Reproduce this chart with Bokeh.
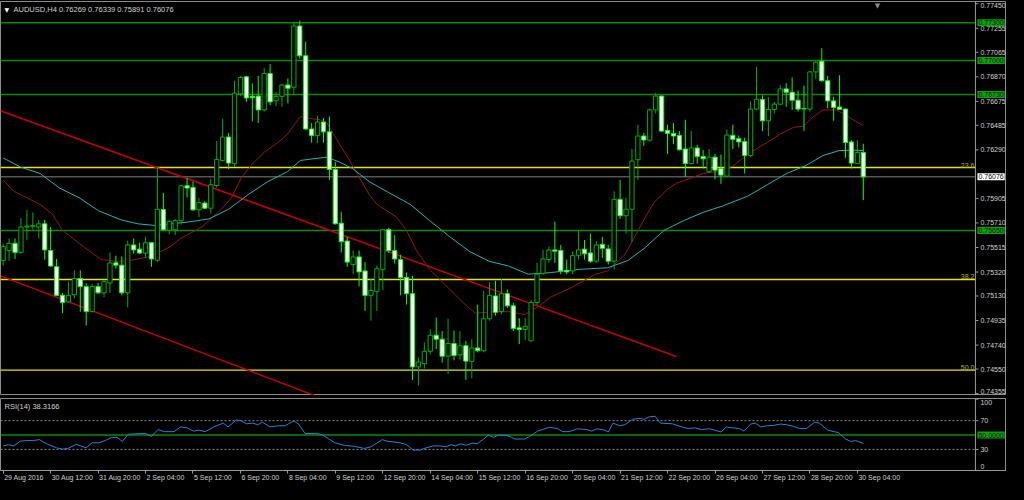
from bokeh.plotting import figure
from bokeh.layouts import column
from bokeh.models import (Range1d, FixedTicker, Label, Span, ColumnDataSource, LinearAxis,
                          CustomJS)
from bokeh.embed import file_html
from bokeh.resources import INLINE
from bokeh.core.properties import value
from bokeh.io import curdoc

# ---------------- data ----------------
symbol = "AUDUSD"
timeframe = "H4"

bar_open = [0.75411, 0.75491, 0.75548, 0.75476, 0.75677, 0.75683, 0.75677, 0.75703, 0.75491, 0.75362,
            0.75135, 0.75083, 0.75140, 0.75269, 0.75205, 0.75006, 0.75205, 0.75155, 0.75233, 0.75393,
            0.75375, 0.75155, 0.75535, 0.75502, 0.75471, 0.75553, 0.75414, 0.75817, 0.75651, 0.75656,
            0.75728, 0.76005, 0.75992, 0.75814, 0.75868, 0.75827, 0.76007, 0.76206, 0.76392, 0.76181,
            0.76735, 0.76870, 0.76715, 0.76717, 0.76607, 0.76896, 0.76679, 0.76715, 0.76805, 0.76787,
            0.77273, 0.77037, 0.76456, 0.76405, 0.76511, 0.76433, 0.76134, 0.75708, 0.75566, 0.75380,
            0.75440, 0.75329, 0.75135, 0.75166, 0.75341, 0.75656, 0.75491, 0.75419, 0.75277, 0.75148,
            0.74567, 0.74593, 0.74691, 0.74818, 0.74787, 0.74652, 0.74753, 0.74663, 0.74735, 0.74611,
            0.74717, 0.74696, 0.74949, 0.75130, 0.75006, 0.75148, 0.75052, 0.74877, 0.74864, 0.74774,
            0.75078, 0.75310, 0.75419, 0.75496, 0.75491, 0.75334, 0.75329, 0.75453, 0.75502, 0.75471,
            0.75406, 0.75540, 0.75504, 0.75406, 0.75897, 0.75767, 0.75819, 0.76212, 0.76400, 0.76367,
            0.76607, 0.76717, 0.76444, 0.76421, 0.76405, 0.76297, 0.76181, 0.76305, 0.76237, 0.76116,
            0.76232, 0.76142, 0.76082, 0.76405, 0.76379, 0.76356, 0.76245, 0.76614, 0.76689, 0.76521,
            0.76611, 0.76653, 0.76774, 0.76748, 0.76684, 0.76619, 0.76614, 0.76909, 0.76994, 0.76839,
            0.76679, 0.76630, 0.76614, 0.76353, 0.76181, 0.76269]
bar_high = [0.75548, 0.75587, 0.75587, 0.75749, 0.75811, 0.75794, 0.75734, 0.75734, 0.75677, 0.75424,
            0.75155, 0.75244, 0.75334, 0.75334, 0.75231, 0.75225, 0.75233, 0.75259, 0.75476, 0.75450,
            0.75445, 0.75569, 0.75587, 0.75553, 0.75600, 0.75553, 0.76154, 0.75948, 0.75734, 0.75742,
            0.76013, 0.76067, 0.76038, 0.75910, 0.75883, 0.76059, 0.76361, 0.76537, 0.76425, 0.76839,
            0.76878, 0.76878, 0.76818, 0.76878, 0.76942, 0.76973, 0.76748, 0.76813, 0.76857, 0.77308,
            0.77316, 0.77149, 0.76503, 0.76560, 0.76542, 0.76555, 0.76193, 0.75798, 0.75600, 0.75491,
            0.75491, 0.75399, 0.75264, 0.75372, 0.75664, 0.75672, 0.75612, 0.75457, 0.75316, 0.75290,
            0.74644, 0.74760, 0.74864, 0.74959, 0.74851, 0.74949, 0.74856, 0.74851, 0.74774, 0.74787,
            0.75062, 0.75174, 0.75238, 0.75251, 0.75264, 0.75182, 0.75076, 0.74954, 0.74954, 0.75097,
            0.75393, 0.75496, 0.75522, 0.75721, 0.75535, 0.75419, 0.75484, 0.75651, 0.75574, 0.75625,
            0.75566, 0.75600, 0.75535, 0.75961, 0.76051, 0.75910, 0.76297, 0.76490, 0.76425, 0.76619,
            0.76743, 0.76723, 0.76490, 0.76503, 0.76439, 0.76529, 0.76439, 0.76330, 0.76289, 0.76297,
            0.76258, 0.76253, 0.76452, 0.76490, 0.76405, 0.76387, 0.76676, 0.76950, 0.76723, 0.76710,
            0.76671, 0.76805, 0.76820, 0.76865, 0.76761, 0.76800, 0.76916, 0.76994, 0.77097, 0.76878,
            0.76710, 0.76882, 0.76619, 0.76367, 0.76367, 0.76339]
bar_low = [0.75370, 0.75409, 0.75424, 0.75465, 0.75574, 0.75656, 0.75587, 0.75419, 0.75362, 0.75130,
           0.74993, 0.75078, 0.75109, 0.75006, 0.74895, 0.75001, 0.75148, 0.75122, 0.75155, 0.75347,
           0.75135, 0.75039, 0.75465, 0.75463, 0.75432, 0.75362, 0.75399, 0.75651, 0.75620, 0.75612,
           0.75697, 0.75912, 0.75806, 0.75755, 0.75819, 0.75786, 0.75992, 0.76199, 0.76137, 0.76154,
           0.76715, 0.76671, 0.76516, 0.76503, 0.76593, 0.76645, 0.76638, 0.76632, 0.76658, 0.76731,
           0.77014, 0.76446, 0.76348, 0.76343, 0.76348, 0.76051, 0.75697, 0.75476, 0.75362, 0.75303,
           0.75207, 0.75011, 0.74934, 0.75011, 0.75174, 0.75471, 0.75388, 0.75135, 0.75062, 0.74464,
           0.74420, 0.74554, 0.74665, 0.74709, 0.74601, 0.74510, 0.74619, 0.74624, 0.74464, 0.74477,
           0.74683, 0.74683, 0.74934, 0.74975, 0.74985, 0.75037, 0.74851, 0.74748, 0.74779, 0.74768,
           0.75058, 0.75295, 0.75393, 0.75393, 0.75303, 0.75303, 0.75303, 0.75419, 0.75419, 0.75393,
           0.75393, 0.75432, 0.75380, 0.75341, 0.75742, 0.75625, 0.75561, 0.76051, 0.76322, 0.76356,
           0.76580, 0.76433, 0.76258, 0.76336, 0.76284, 0.76077, 0.76175, 0.76181, 0.76142, 0.76108,
           0.76057, 0.76020, 0.76072, 0.76297, 0.76309, 0.76103, 0.76232, 0.76607, 0.76439, 0.76400,
           0.76580, 0.76645, 0.76632, 0.76607, 0.76593, 0.76439, 0.76593, 0.76851, 0.76831, 0.76619,
           0.76521, 0.76607, 0.76227, 0.76142, 0.76181, 0.75891]
bar_close = [0.75522, 0.75548, 0.75476, 0.75677, 0.75685, 0.75690, 0.75703, 0.75496, 0.75368, 0.75135,
             0.75078, 0.75135, 0.75269, 0.75205, 0.75006, 0.75205, 0.75155, 0.75244, 0.75393, 0.75375,
             0.75155, 0.75535, 0.75496, 0.75471, 0.75553, 0.75424, 0.75817, 0.75656, 0.75724, 0.75728,
             0.76005, 0.75987, 0.75814, 0.75871, 0.75827, 0.76013, 0.76214, 0.76392, 0.76185, 0.76741,
             0.76865, 0.76702, 0.76704, 0.76607, 0.76896, 0.76671, 0.76715, 0.76805, 0.76779, 0.77273,
             0.77037, 0.76456, 0.76405, 0.76511, 0.76433, 0.76134, 0.75703, 0.75561, 0.75399, 0.75440,
             0.75321, 0.75135, 0.75174, 0.75347, 0.75656, 0.75491, 0.75424, 0.75277, 0.75148, 0.74567,
             0.74606, 0.74691, 0.74818, 0.74787, 0.74652, 0.74753, 0.74657, 0.74735, 0.74613, 0.74717,
             0.74696, 0.74949, 0.75135, 0.75001, 0.75148, 0.75052, 0.74872, 0.74864, 0.74890, 0.75078,
             0.75303, 0.75424, 0.75496, 0.75486, 0.75329, 0.75321, 0.75450, 0.75496, 0.75465, 0.75406,
             0.75535, 0.75509, 0.75406, 0.75897, 0.75767, 0.75819, 0.76201, 0.76400, 0.76369, 0.76607,
             0.76717, 0.76439, 0.76421, 0.76400, 0.76291, 0.76181, 0.76305, 0.76237, 0.76219, 0.76232,
             0.76129, 0.76090, 0.76408, 0.76374, 0.76353, 0.76245, 0.76614, 0.76692, 0.76521, 0.76611,
             0.76653, 0.76774, 0.76748, 0.76684, 0.76614, 0.76616, 0.76909, 0.76986, 0.76839, 0.76679,
             0.76627, 0.76611, 0.76348, 0.76185, 0.76269, 0.76076]

# moving averages (bar position, value)
ma_red_bar = [0, 1.8, 6.2, 8.3, 10.0, 12.8, 15.0, 16.6, 18.9, 20.6, 22.7, 24.9, 26.6, 28.2, 29.9,
              33.5, 36.8, 38.5, 40.1, 41.8, 44.0, 46.3, 47.9, 50.1, 51.2, 53.4, 54.6, 56.2, 57.9, 59.5,
              61.7, 63.0, 66.3, 68.0, 69.6, 71.9, 74.6, 77.4, 79.6, 82.9, 85.2, 87.9, 90.2, 92.3, 95.6,
              99.8, 101.9, 104.8, 106.9, 108.1, 109.7, 111.9, 113.5, 115.9, 118.0, 120.2, 123.0, 125.5,
              128.8, 130.9, 133.3, 134.9, 136.6, 138.2, 140.4, 142.0, 143.7, 145.0]
ma_red_val = [0.76051, 0.75961, 0.75858, 0.75780, 0.75651, 0.75548, 0.75471, 0.75419, 0.75406, 0.75406,
              0.75424, 0.75445, 0.75484, 0.75522, 0.75587, 0.75677, 0.75819, 0.75910, 0.76065, 0.76168,
              0.76271, 0.76348, 0.76413, 0.76555, 0.76542, 0.76529, 0.76503, 0.76374, 0.76245, 0.76116,
              0.75935, 0.75858, 0.75757, 0.75651, 0.75496, 0.75341, 0.75215, 0.75083, 0.74993, 0.75006,
              0.75006, 0.74983, 0.75045, 0.75122, 0.75192, 0.75302, 0.75329, 0.75457, 0.75639, 0.75742,
              0.75871, 0.75974, 0.76026, 0.76065, 0.76103, 0.76116, 0.76160, 0.76258, 0.76348, 0.76413,
              0.76470, 0.76477, 0.76555, 0.76607, 0.76607, 0.76568, 0.76516, 0.76483]
ma_cyan_bar = [0, 2.9, 6.2, 9.5, 12.8, 16.1, 19.9, 22.7, 25.6, 28.2, 31.0, 34.7, 38.0, 41.3, 44.6,
               47.9, 50.1, 52.2, 54.6, 56.7, 58.9, 61.7, 65.0, 68.6, 71.9, 75.3, 78.6, 81.9, 85.2, 88.5,
               92.3, 97.0, 101.9, 105.3, 108.1, 111.4, 114.7, 118.0, 121.3, 125.5, 128.8, 132.1, 135.4,
               138.2, 140.9, 143.2, 145.0]
ma_cyan_val = [0.76226, 0.76154, 0.76103, 0.75987, 0.75910, 0.75806, 0.75734, 0.75703, 0.75690, 0.75703,
               0.75716, 0.75742, 0.75819, 0.75935, 0.76038, 0.76116, 0.76206, 0.76219, 0.76232, 0.76193,
               0.76142, 0.76038, 0.75951, 0.75858, 0.75728, 0.75600, 0.75484, 0.75406, 0.75368, 0.75303,
               0.75316, 0.75341, 0.75354, 0.75411, 0.75509, 0.75651, 0.75728, 0.75794, 0.75845, 0.75922,
               0.76013, 0.76103, 0.76168, 0.76245, 0.76284, 0.76289, 0.76284]

# trend lines (bar, price) end points
trend_upper_bar = [-0.45, 113.5]
trend_upper_val = [0.76601, 0.74650]
trend_lower_bar = [-0.45, 54.2]
trend_lower_val = [0.75290, 0.74309]

# horizontal levels
green_levels = [0.77300, 0.77000, 0.76730, 0.75650]
fib_names = ["23.6", "38.2", "50.0"]
fib_levels = [0.76150, 0.75261, 0.74541]

# RSI(14)
rsi_bar = [0, 0.9, 1.8, 2.9, 4.0, 5.1, 6.1, 7.3, 9.0, 10.0, 10.9, 12.3, 13.1, 14.0, 15.0, 16.1, 17.2,
           18.3, 19.2, 20.1, 21.1, 23.9, 25.0, 26.1, 27.2, 28.8, 29.9, 31.0, 32.1, 33.0, 34.1, 35.5,
           37.1, 37.9, 39.3, 40.1, 41.0, 42.1, 42.9, 43.7, 45.0, 46.5, 47.6, 48.1, 49.0, 49.8, 50.9,
           52.9, 53.9, 55.9, 57.5, 59.2, 60.9, 62.0, 63.9, 64.7, 66.9, 68.0, 69.1, 70.3, 71.3, 72.5,
           73.6, 74.7, 75.5, 76.3, 77.1, 78.0, 79.1, 79.9, 81.0, 81.8, 82.7, 83.5, 84.9, 85.7, 86.3,
           87.9, 88.7, 90.1, 92.1, 93.4, 94.3, 95.4, 96.8, 98.4, 99.2, 100.1, 101.4, 102.0, 102.8,
           103.9, 104.8, 106.1, 107.2, 108.1, 108.9, 109.9, 110.8, 112.8, 114.4, 115.5, 116.6, 117.7,
           119.1, 120.5, 121.0, 121.9, 123.0, 124.1, 124.9, 126.0, 126.8, 127.7, 128.8, 129.9, 131.0,
           132.1, 133.2, 134.3, 135.4, 136.8, 137.6, 139.0, 140.1, 140.8, 142.0, 142.9, 143.7, 145.0]
rsi_val = [34.9, 36.6, 34.9, 41.5, 42.3, 42.3, 43.6, 37.9, 32.2, 30.4, 31.3, 37.0, 34.9, 32.2, 39.2,
           39.2, 42.3, 46.8, 46.8, 41.0, 51.1, 52.4, 48.1, 57.7, 54.7, 54.7, 61.3, 60.0, 55.5, 56.8,
           54.7, 61.3, 66.6, 61.3, 70.9, 70.0, 65.7, 66.6, 64.3, 67.9, 61.3, 63.0, 63.0, 65.7, 69.6,
           65.3, 52.0, 52.4, 49.8, 39.2, 35.7, 34.3, 31.3, 33.6, 43.6, 41.5, 39.2, 36.6, 29.1, 29.1,
           32.2, 34.9, 34.9, 33.6, 36.6, 34.9, 37.9, 35.7, 38.8, 37.9, 44.5, 49.8, 46.8, 50.2, 49.5,
           46.8, 44.5, 44.5, 47.6, 55.5, 60.8, 59.0, 54.7, 54.7, 58.7, 57.7, 55.5, 58.7, 56.8, 54.2,
           66.6, 63.0, 64.3, 71.9, 73.2, 71.9, 75.3, 76.2, 66.6, 65.7, 61.3, 59.0, 60.0, 57.7, 58.7,
           55.5, 54.2, 61.3, 60.0, 59.0, 55.5, 65.3, 66.6, 61.3, 63.0, 63.4, 65.3, 64.3, 62.1, 59.0,
           59.0, 67.9, 66.6, 56.8, 54.7, 53.4, 44.5, 41.0, 42.3, 38.3]
rsi_last = 38.3166
rsi_levels_dotted = [70, 30]
rsi_mid = 50
rsi_ticks = [100, 70, 30, 0]

price_ticks = [0.74355, 0.74550, 0.74740, 0.74935, 0.75130, 0.75320, 0.75515, 0.75710, 0.75905,
               0.76290, 0.76485, 0.76675, 0.76870, 0.77065, 0.77255, 0.77450]

xtick_bars = [0, 8, 16, 24, 32, 40, 48, 56, 64, 72, 80, 88, 96, 104, 112, 120, 128, 136, 144]
xtick_labels = ["29 Aug 2016", "30 Aug 12:00", "31 Aug 20:00", "2 Sep 04:00", "5 Sep 12:00",
                "6 Sep 20:00", "8 Sep 04:00", "9 Sep 12:00", "12 Sep 20:00", "14 Sep 04:00",
                "15 Sep 12:00", "16 Sep 20:00", "20 Sep 04:00", "21 Sep 12:00", "22 Sep 20:00",
                "26 Sep 04:00", "27 Sep 12:00", "28 Sep 20:00", "30 Sep 04:00"]

# ---------------- styling / layout ----------------
FONT = "Liberation Sans"
FS_PX = 7
FS = f"{FS_PX}px"
FRAME_W = 1006            # whole canvas; price scale is drawn inside at AXIS_X
PX_PER_BAR = 5.932
X_START = -0.45
AXIS_X = 163.9            # chart/price-scale separator (in bar units)
X_END = X_START + FRAME_W / PX_PER_BAR
MAIN_H = 394
Y_START, Y_END = 0.74340, 0.77468
R_START, R_END = 0.6, 100.9
RSI_H = 72
AX_COL = "#9A9A9A"
TXT_COL = "#D2D2D2"
BULL_LINE = "#00B000"
BEAR_LINE = "#00FF00"
GREEN_LVL = "#0A8A0A"
BOX_BG = "#0CA00C"
BOX_TXT = "#001C00"
FIB_COL = "#E6E600"
TICK_BARS = 3 / PX_PER_BAR
EDGE_PAD = 4

# Arial/Liberation Sans advance widths (em) for the date labels
_W = {**{d: 0.556 for d in "0123456789"}, " ": 0.278, ":": 0.278, "A": 0.667, "S": 0.667,
      "u": 0.556, "g": 0.556, "e": 0.556, "p": 0.556}


def text_w(s):
    return sum(_W.get(ch, 0.556) for ch in s) * FS_PX


def edge_offsets(ticks, lo, hi, height):
    """Push labels that would be cut by the pane edge back inside (screen px, + = down)."""
    out = []
    for t in ticks:
        from_bottom = (t - lo) / (hi - lo) * height
        from_top = height - from_bottom
        if from_bottom < EDGE_PAD:
            out.append(-(EDGE_PAD - from_bottom))
        elif from_top < EDGE_PAD:
            out.append(EDGE_PAD - from_top)
        else:
            out.append(0)
    return out


n = len(bar_open)
xs = list(range(n))
up = [c >= o for o, c in zip(bar_open, bar_close)]
src = ColumnDataSource(dict(
    x=xs, o=bar_open, h=bar_high, l=bar_low, c=bar_close,
    top=[max(o, c) for o, c in zip(bar_open, bar_close)],
    bot=[min(o, c) for o, c in zip(bar_open, bar_close)],
    fill=["#000000" if u else "#FFFFFF" for u in up],
    line=[BULL_LINE if u else BEAR_LINE for u in up],
))


def price_scale(fig, ticks, labels, lo, hi, height):
    """Terminal-style price scale drawn inside the canvas at AXIS_X."""
    fig.add_layout(Span(location=AXIS_X, dimension="height", line_color=AX_COL, line_width=1))
    fig.segment(x0=[AXIS_X] * len(ticks), y0=ticks, x1=[AXIS_X + TICK_BARS] * len(ticks), y1=ticks,
                line_color=AX_COL, line_width=1)
    fig.text(x=[AXIS_X] * len(ticks), y=ticks, text=labels, x_offset=5,
             y_offset=edge_offsets(ticks, lo, hi, height), text_align="left",
             text_baseline="middle", text_font=value(FONT), text_font_size=value(FS),
             text_color=TXT_COL)


def value_box(fig, y, text, bg, fg):
    fig.add_layout(Label(x=AXIS_X, y=y, text=text, text_align="left", text_baseline="middle",
                         x_offset=2, text_font=FONT, text_font_size=FS, text_color=fg,
                         background_fill_color=bg, padding=1))


main = figure(frame_width=FRAME_W, frame_height=MAIN_H,
              x_range=Range1d(X_START, X_END), y_range=Range1d(Y_START, Y_END),
              x_axis_location=None, y_axis_location=None,
              toolbar_location=None, output_backend="svg",
              background_fill_color="#000000", border_fill_color="#000000",
              outline_line_color="#8C8C8C",
              min_border_left=0, min_border_right=0, min_border_top=1, min_border_bottom=0)
main.grid.visible = False

# horizontal levels (stop at the price scale)
k = len(green_levels)
main.segment(x0=[X_START] * k, y0=green_levels, x1=[AXIS_X] * k, y1=green_levels,
             line_color=GREEN_LVL, line_width=1.5)
k = len(fib_levels)
main.segment(x0=[X_START] * k, y0=fib_levels, x1=[AXIS_X] * k, y1=fib_levels,
             line_color=FIB_COL, line_width=1.3)
for nm, lv in zip(fib_names, fib_levels):
    main.add_layout(Label(x=AXIS_X, y=lv, text=nm, text_align="right", text_baseline="bottom",
                          x_offset=-1, y_offset=0, text_font=FONT, text_font_size=FS,
                          text_color="#B8B800"))
main.segment(x0=[X_START], y0=[bar_close[-1]], x1=[AXIS_X], y1=[bar_close[-1]],
             line_color="#808080", line_width=1)

# trend lines
main.line(trend_upper_bar, trend_upper_val, line_color="#C80000", line_width=1.5)
main.line(trend_lower_bar, trend_lower_val, line_color="#C80000", line_width=1.5)

# moving averages
main.line(ma_red_bar, ma_red_val, line_color="#9A1414", line_width=1)
main.line(ma_cyan_bar, ma_cyan_val, line_color="#1FB5B5", line_width=1)

# candles
main.segment(x0="x", y0="l", x1="x", y1="h", line_color="line", line_width=1, source=src)
main.vbar(x="x", width=0.72, top="top", bottom="bot", fill_color="fill", line_color="line",
          line_width=1, source=src)

# price scale + value boxes
price_scale(main, price_ticks, [f"{t:.5f}" for t in price_ticks], Y_START, Y_END, MAIN_H)
for lv in green_levels:
    value_box(main, lv, f"{lv:.5f}", BOX_BG, BOX_TXT)
value_box(main, bar_close[-1], f"{bar_close[-1]:.5f}", "#FFFFFF", "#000000")

# header text
main.add_layout(Label(x=X_START, y=Y_END, x_offset=4, y_offset=-4, text="\u25bc",
                      text_baseline="top", text_font="DejaVu Sans", text_font_size="6px",
                      text_color="#FFFFFF"))
header = f"{symbol},{timeframe}  {bar_open[-1]:.5f} {bar_high[-1]:.5f} {bar_low[-1]:.5f} {bar_close[-1]:.5f}"
main.add_layout(Label(x=X_START, y=Y_END, x_offset=13, y_offset=-3, text=header,
                      text_baseline="top", text_font=FONT, text_font_size="7.5px",
                      text_color=TXT_COL))
# chart-shift marker
main.add_layout(Label(x=n - 1 + 2.4, y=Y_END, y_offset=0, text="\u25bc", text_align="center",
                      text_baseline="top", text_font="DejaVu Sans", text_font_size="7px",
                      text_color="#8A8A8A"))

# ---------------- RSI pane ----------------
rsi = figure(frame_width=FRAME_W, frame_height=RSI_H,
             x_range=main.x_range, y_range=Range1d(R_START, R_END),
             x_axis_location="below", y_axis_location=None,
             toolbar_location=None, output_backend="svg",
             background_fill_color="#000000", border_fill_color="#000000",
             outline_line_color="#8C8C8C",
             min_border_left=0, min_border_right=0, min_border_top=3, min_border_bottom=0)
rsi.grid.visible = False
k = len(rsi_levels_dotted)
rsi.segment(x0=[X_START] * k, y0=rsi_levels_dotted, x1=[AXIS_X] * k, y1=rsi_levels_dotted,
            line_color="#8C8C8C", line_width=1, line_dash="2 2")
rsi.segment(x0=[X_START], y0=[rsi_mid], x1=[AXIS_X], y1=[rsi_mid], line_color=GREEN_LVL,
            line_width=1.5)
rsi.line(rsi_bar, rsi_val, line_color="#2C7FD8", line_width=1)

price_scale(rsi, rsi_ticks, [str(t) for t in rsi_ticks], R_START, R_END, RSI_H)
value_box(rsi, rsi_mid, f"{rsi_mid:.4f}", BOX_BG, BOX_TXT)
rsi.add_layout(Label(x=X_START, y=R_END, x_offset=4, y_offset=-3, text=f"RSI(14) {rsi_last:.4f}",
                     text_baseline="top", text_font=FONT, text_font_size="7.5px",
                     text_color=TXT_COL))

# time axis: tick marks at the bars, labels start at their tick (left-aligned)
rx = rsi.xaxis[0]
rx.ticker = FixedTicker(ticks=xtick_bars)
rx.major_label_overrides = {b: "" for b in xtick_bars}
rx.major_label_text_font_size = "0px"
rx.major_label_standoff = 0
rx.major_tick_in = 0
rx.major_tick_out = 3
rx.minor_tick_out = 0
rx.minor_tick_in = 0
rx.axis_line_color = AX_COL
rx.major_tick_line_color = AX_COL

lab_pos = [round(b + (1 + text_w(s) / 2) / PX_PER_BAR, 3) for b, s in zip(xtick_bars, xtick_labels)]
lab_axis = LinearAxis(ticker=FixedTicker(ticks=lab_pos),
                      major_label_overrides={p_: s for p_, s in zip(lab_pos, xtick_labels)},
                      axis_line_color=None, major_tick_line_color=None, minor_tick_line_color=None,
                      major_tick_out=0, major_tick_in=0, minor_tick_out=0, minor_tick_in=0,
                      major_label_standoff=0, major_label_text_font=FONT,
                      major_label_text_font_size=FS, major_label_text_color=TXT_COL)
rsi.add_layout(lab_axis, "below")

layout = column(main, rsi)
doc = curdoc()
doc.add_root(layout)
doc.js_on_event("document_ready", CustomJS(code="document.body.style.background = '#000000';"))

p = layout
open("out.html", "w").write(file_html(p, INLINE, title="AUDUSD,H4"))
